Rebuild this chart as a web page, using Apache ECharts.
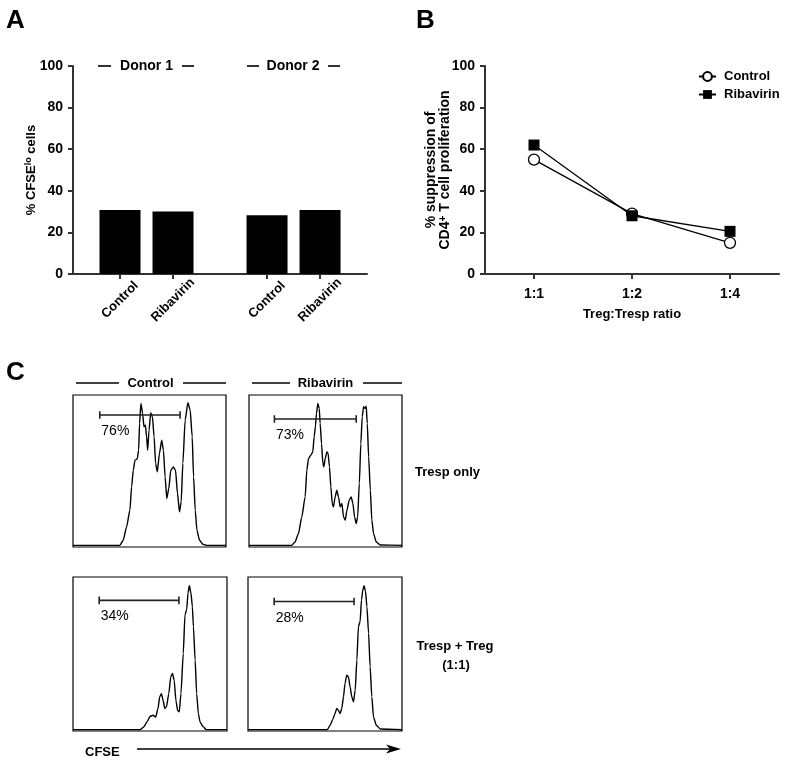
<!DOCTYPE html>
<html><head><meta charset="utf-8">
<script src="https://cdn.jsdelivr.net/npm/echarts@6/dist/echarts.min.js"></script>
<style>html,body{margin:0;padding:0;background:#fff}#c{width:791px;height:768px}</style>
</head><body><div id="c"></div>
<script>
// ---------- Panel A data ----------
const donors = ['Donor 1', 'Donor 2'];
const treatments = ['Control', 'Ribavirin'];
const cfseLoDonor1 = [30.8, 30.0];
const cfseLoDonor2 = [28.2, 30.8];
const yTicksA = [0, 20, 40, 60, 80, 100];

// ---------- Panel B data ----------
const ratios = ['1:1', '1:2', '1:4'];
const suppressionControl = [55, 29, 15];
const suppressionRibavirin = [62, 28, 20.5];

// ---------- Panel C data (CFSE histograms, x: channel 0-100, y: % of max) ----------
const histControlTresp = [[0,1.1],[30.6,1.1],[32.8,4.4],[35.0,13.2],[37.2,24.2],[38.3,39.6],[39.4,50.5],[40.5,57.1],[42.0,58.0],[42.9,63.7],[43.5,81.3],[44.4,94.5],[45.5,87.9],[46.4,79.1],[47.3,80.2],[48.1,72.5],[48.8,63.7],[49.7,76.9],[50.8,88.4],[51.9,85.7],[53.0,72.5],[54.0,54.9],[55.1,49.5],[56.5,61.5],[58.0,70.3],[59.1,63.7],[60.2,46.2],[61.3,31.9],[62.6,38.5],[63.9,50.5],[65.6,52.7],[67.0,50.5],[68.3,35.2],[69.6,23.1],[70.7,29.7],[71.8,54.9],[73.3,83.5],[75.1,94.9],[76.6,90.1],[77.9,72.5],[78.8,46.2],[79.9,24.2],[81.0,11.0],[82.7,4.4],[84.9,1.8],[87.5,1.1],[100,1.1]];
const histRibavirinTresp = [[0,1.1],[27.9,1.1],[30.1,3.3],[32.3,8.8],[34.5,19.8],[36.7,33.0],[37.8,50.5],[38.9,58.2],[40.4,60.4],[41.7,62.6],[42.6,72.5],[43.4,79.1],[44.1,87.9],[45.0,94.5],[45.9,91.2],[46.5,81.3],[47.4,68.1],[48.3,54.9],[48.9,52.7],[49.8,58.2],[50.9,62.6],[51.7,61.5],[52.6,52.7],[53.5,39.6],[54.4,28.6],[55.2,26.4],[56.3,33.0],[57.4,37.4],[58.5,33.0],[59.6,26.4],[60.7,28.6],[61.8,19.8],[62.9,17.6],[64.0,24.2],[65.5,30.8],[66.8,33.0],[67.9,28.6],[69.0,19.8],[70.1,15.4],[71.0,19.8],[72.1,41.8],[73.1,68.1],[74.0,85.7],[74.9,92.3],[75.8,91.2],[76.6,92.7],[77.3,81.3],[78.2,59.3],[79.3,37.4],[80.3,17.6],[81.4,8.8],[83.2,3.3],[85.8,1.3],[100,1.1]];
const histControlTreg = [[0,0.9],[43.7,0.9],[45.9,2.6],[48.0,5.9],[50.2,9.6],[52.0,10.2],[53.7,9.1],[55.2,14.6],[56.3,22.2],[57.4,24.3],[58.5,20.0],[59.6,14.6],[60.7,15.7],[62.2,24.3],[63.5,35.2],[64.6,37.4],[65.7,33.0],[66.8,20.0],[67.9,13.5],[69.0,12.4],[70.1,24.3],[71.6,50.4],[72.7,75.4],[73.8,78.7],[74.7,89.6],[75.5,94.3],[76.6,89.6],[77.5,80.9],[78.2,67.8],[79.3,46.1],[80.3,24.3],[81.4,11.3],[82.5,5.9],[84.3,3.0],[86.5,0.9],[100,0.9]];
const histRibavirinTreg = [[0,0.9],[51.5,0.9],[53.3,3.7],[55.0,7.4],[56.5,11.3],[57.6,14.6],[58.7,13.5],[59.8,11.3],[60.9,14.6],[62.0,22.2],[63.0,30.9],[64.1,36.3],[65.2,35.2],[66.3,28.7],[67.4,22.2],[68.5,18.9],[69.6,26.5],[70.7,46.1],[71.7,67.8],[72.8,71.1],[73.7,85.2],[74.6,91.7],[75.4,94.3],[76.3,90.7],[77.2,80.9],[78.3,63.5],[79.3,41.7],[80.4,22.2],[81.5,9.1],[83.3,3.7],[85.9,1.3],[100,0.9]];
const gateLeft = [17.5, 16.6, 17.0, 17.0];
const gateRight = [70.0, 70.1, 68.8, 68.9];
const gateLevel = [86.8, 84.2, 84.8, 84.1];
const gatePercent = ['76%', '73%', '34%', '28%'];
const columnTitles = ['Control', 'Ribavirin'];
const rowTitles = ['Tresp only', 'Tresp + Treg', '(1:1)'];

// ---------- build ----------
const FONT = '"Liberation Sans", Arial, Helvetica, sans-serif';
const AX = '#333';
const chart = echarts.init(document.getElementById('c'));

const slotA = [], labelA = [];
donors.forEach((d, g) => treatments.forEach((t, j) => { slotA.push(1 + g * 2.774 + j); labelA.push(t); }));
const valuesA = cfseLoDonor1.concat(cfseLoDonor2);

const histograms = [histControlTresp, histRibavirinTresp, histControlTreg, histRibavirinTreg];
const histGrids = [
  {left: 73, top: 395, width: 153, height: 152},
  {left: 249, top: 395, width: 153, height: 152},
  {left: 73, top: 577, width: 154, height: 154},
  {left: 248, top: 577, width: 154, height: 154}
];

const boldTick = {fontFamily: FONT, fontWeight: 'bold', fontSize: 14, color: '#000'};

const grids = [
  {left: 73, top: 66, width: 294, height: 208, outerBoundsMode: 'none'},
  {left: 485, top: 66, width: 294, height: 208, outerBoundsMode: 'none'}
].concat(histGrids.map(g => Object.assign({show: true, borderColor: '#000', borderWidth: 1.2, backgroundColor: 'transparent', outerBoundsMode: 'none'}, g)));

const xAxes = [
  {type: 'value', gridIndex: 0, min: 0.113, max: 5.66, splitLine: {show: false},
   axisLine: {show: true, onZero: false, lineStyle: {color: AX, width: 2}},
   axisTick: {show: true, customValues: slotA, length: 5, lineStyle: {color: AX, width: 2}},
   axisLabel: {customValues: slotA, rotate: 45, align: 'center', verticalAlign: 'middle', margin: 26,
     fontFamily: FONT, fontWeight: 'bold', fontSize: 13, color: '#000',
     formatter: v => { let k = 0; slotA.forEach((s, i) => { if (Math.abs(s - v) < Math.abs(slotA[k] - v)) k = i; }); return labelA[k]; }}},
  {type: 'category', gridIndex: 1, data: ratios, boundaryGap: true,
   axisLine: {show: true, onZero: false, lineStyle: {color: AX, width: 2}},
   axisTick: {show: true, alignWithLabel: true, length: 5, lineStyle: {color: AX, width: 2}},
   axisLabel: Object.assign({margin: 13}, boldTick),
   name: 'Treg:Tresp ratio', nameLocation: 'middle', nameGap: 34, nameMoveOverlap: false,
   nameTextStyle: {fontFamily: FONT, fontWeight: 'bold', fontSize: 13, color: '#000'}}
].concat(histGrids.map((g, i) => ({type: 'value', gridIndex: i + 2, min: 0, max: 100, show: false})));

const yAxes = [
  {type: 'value', gridIndex: 0, min: 0, max: 100, interval: 20, splitLine: {show: false},
   axisLine: {show: true, onZero: false, lineStyle: {color: AX, width: 2}},
   axisTick: {show: true, length: 5, lineStyle: {color: AX, width: 2}},
   axisLabel: Object.assign({margin: 10}, boldTick),
   name: '% CFSE{sup|lo} cells', nameLocation: 'middle', nameRotate: 90, nameGap: 34, nameMoveOverlap: false,
   nameTextStyle: {fontFamily: FONT, fontWeight: 'bold', fontSize: 13, color: '#000', lineHeight: 15,
     rich: {sup: {fontFamily: FONT, fontWeight: 'bold', fontSize: 9, color: '#000', verticalAlign: 'top', lineHeight: 9}}}},
  {type: 'value', gridIndex: 1, min: 0, max: 100, interval: 20, splitLine: {show: false},
   axisLine: {show: true, onZero: false, lineStyle: {color: AX, width: 2}},
   axisTick: {show: true, length: 5, lineStyle: {color: AX, width: 2}},
   axisLabel: Object.assign({margin: 10}, boldTick),
   name: '% suppression of\nCD4{sup|+} T cell proliferation', nameLocation: 'middle', nameRotate: 90, nameGap: 33, nameMoveOverlap: false,
   nameTextStyle: {fontFamily: FONT, fontWeight: 'bold', fontSize: 14, color: '#000', lineHeight: 14, align: 'center',
     rich: {sup: {fontFamily: FONT, fontWeight: 'bold', fontSize: 10, color: '#000', verticalAlign: 'top', lineHeight: 10}}}}
].concat(histGrids.map((g, i) => ({type: 'value', gridIndex: i + 2, min: 0, max: 100, show: false})));

const series = [
  {type: 'bar', name: 'cfse', xAxisIndex: 0, yAxisIndex: 0, barWidth: 41,
   data: slotA.map((x, i) => [x, valuesA[i]]), itemStyle: {color: '#000'}, silent: true},
  {type: 'line', name: 'Control', xAxisIndex: 1, yAxisIndex: 1, data: suppressionControl,
   symbol: 'circle', symbolSize: 11, z: 3,
   lineStyle: {color: '#000', width: 1.3}, itemStyle: {color: '#fff', borderColor: '#000', borderWidth: 1.3}},
  {type: 'line', name: 'Ribavirin', xAxisIndex: 1, yAxisIndex: 1, data: suppressionRibavirin,
   symbol: 'rect', symbolSize: 11, z: 4,
   lineStyle: {color: '#000', width: 1.3}, itemStyle: {color: '#000'}}
];
histograms.forEach((h, i) => {
  series.push({type: 'line', xAxisIndex: i + 2, yAxisIndex: i + 2, data: h, showSymbol: false, symbol: 'none',
    smooth: 0.2, smoothMonotone: 'x', lineStyle: {color: '#000', width: 1.4}, silent: true});
  const L = gateLeft[i], R = gateRight[i], Y = gateLevel[i];
  series.push({type: 'line', xAxisIndex: i + 2, yAxisIndex: i + 2, showSymbol: false, symbol: 'none',
    data: [[L, Y - 2.5], [L, Y + 2.5], [L, Y], [R, Y], [R, Y - 2.5], [R, Y + 2.5]],
    lineStyle: {color: '#222', width: 1.6}, silent: true});
});

function txt(x, y, s, size, align, weight) {
  return {type: 'text', x: x, y: y, style: {text: s, fill: '#000',
    font: (weight || 'bold') + ' ' + size + 'px ' + FONT,
    align: align || 'left', verticalAlign: 'middle', textAlign: align || 'left', textVerticalAlign: 'middle'}};
}
function seg(x1, y1, x2, y2, w) {
  return {type: 'line', shape: {x1: x1, y1: y1, x2: x2, y2: y2}, style: {stroke: '#000', lineWidth: w || 1.6}};
}

const graphic = [
  txt(6, 21, 'A', 26), txt(416, 21, 'B', 26), txt(6, 373, 'C', 26),
  seg(98, 66, 111, 66), txt(146.5, 66, donors[0], 14, 'center'), seg(182, 66, 194, 66),
  seg(247, 66, 259, 66), txt(293, 66, donors[1], 14, 'center'), seg(328, 66, 340, 66),
  seg(76, 383, 119, 383), txt(150.5, 383, columnTitles[0], 13, 'center'), seg(183, 383, 226, 383),
  seg(252, 383, 290, 383), txt(325.5, 383, columnTitles[1], 13, 'center'), seg(363, 383, 402, 383),
  txt(415, 472, rowTitles[0], 13, 'left'),
  txt(455, 646, rowTitles[1], 13, 'center'),
  txt(456, 665, rowTitles[2], 13, 'center'),
  txt(85, 752, 'CFSE', 13, 'left'),
  seg(137, 749, 392, 749, 1.3),
  {type: 'polygon', shape: {points: [[386, 744.5], [401, 749], [386, 753.5], [390, 749]]}, style: {fill: '#000'}}
];

chart.setOption({
  animation: false,
  backgroundColor: '#fff',
  textStyle: {fontFamily: FONT},
  legend: {data: ['Control', 'Ribavirin'], orient: 'vertical', left: 693, top: 65, itemWidth: 17, itemHeight: 11,
    itemGap: 5, selectedMode: false,
    textStyle: {fontFamily: FONT, fontWeight: 'bold', fontSize: 13, color: '#000', padding: [0, 0, 0, 3]}},
  grid: grids, xAxis: xAxes, yAxis: yAxes, series: series, graphic: graphic
});

// gate percentage labels, placed through each histogram's own axes
const gateLabels = gatePercent.map((p, i) => {
  const pt = chart.convertToPixel({gridIndex: i + 2}, [gateLeft[i] + 1, gateLevel[i] - 10.5]);
  return txt(pt[0], pt[1], p, 14, 'left', 'normal');
});
chart.setOption({graphic: graphic.concat(gateLabels)});
</script></body></html>
